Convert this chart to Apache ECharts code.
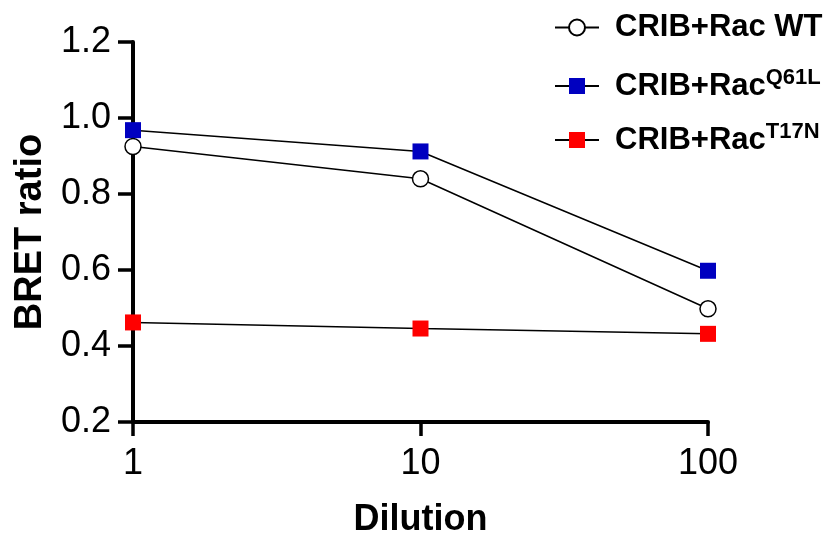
<!DOCTYPE html>
<html>
<head>
<meta charset="utf-8">
<script src="https://cdn.jsdelivr.net/npm/echarts@6/dist/echarts.min.js"></script>
<style>html,body{margin:0;padding:0;background:#fff}#c{width:838px;height:543px}</style>
</head>
<body>
<div id="c"></div>
<script>
const dilutions = [1, 10, 100];
const wtValues = [0.925, 0.84, 0.498];
const q61lValues = [0.968, 0.912, 0.598];
const t17nValues = [0.462, 0.446, 0.432];
const seriesNames = ['CRIB+Rac WT', 'CRIB+Rac Q61L', 'CRIB+Rac T17N'];
const legendLabels = ['CRIB+Rac WT', 'CRIB+Rac{s|Q61L}', 'CRIB+Rac{s|T17N}'];
const yTicks = [0.2, 0.4, 0.6, 0.8, 1.0, 1.2];

const FONT = '"Liberation Sans", Arial, sans-serif';
const pts = vals => dilutions.map((d, i) => [d, vals[i]]);

function mkLegend(idx, top) {
  return {
    data: [seriesNames[idx]],
    left: 549, top: top,
    itemWidth: 44, itemHeight: 20,
    formatter: () => legendLabels[idx],
    textStyle: {
      fontFamily: FONT, fontSize: 31, fontWeight: 'bold', color: '#000',
      padding: [0, 0, 0, 11],
      rich: {
        s: { fontFamily: FONT, fontSize: 22, fontWeight: 'bold', color: '#000', verticalAlign: 'top', padding: [0, 0, 16, 0] }
      }
    }
  };
}

const chart = echarts.init(document.getElementById('c'));
chart.setOption({
  animation: false,
  backgroundColor: '#fff',
  grid: { left: 133, right: 130, top: 42, bottom: 117 },
  legend: [mkLegend(0, 7), mkLegend(1, 62), mkLegend(2, 116)],
  xAxis: {
    type: 'log', logBase: 10, min: 1, max: 100,
    name: 'Dilution', nameLocation: 'middle', nameGap: 80,
    nameTextStyle: { fontFamily: FONT, fontSize: 36, fontWeight: 'bold', color: '#000' },
    axisLine: { lineStyle: { color: '#000', width: 4 } },
    axisTick: { length: 14, lineStyle: { color: '#000', width: 3.5 } },
    axisLabel: { fontFamily: FONT, fontSize: 36, color: '#000', margin: 24 },
    splitLine: { show: false }, minorTick: { show: false }
  },
  yAxis: {
    type: 'value', min: 0.2, max: 1.2, interval: 0.2,
    name: 'BRET ratio', nameLocation: 'middle', nameGap: 83, nameRotate: 90,
    nameTextStyle: { fontFamily: FONT, fontSize: 38, fontWeight: 'bold', color: '#000' },
    axisLine: { show: true, lineStyle: { color: '#000', width: 4 } },
    axisTick: { show: true, length: 15, lineStyle: { color: '#000', width: 3.5 } },
    axisLabel: { fontFamily: FONT, fontSize: 36, color: '#000', margin: 22, formatter: v => v.toFixed(1) },
    splitLine: { show: false }
  },
  series: [
    { name: seriesNames[2], type: 'line', data: pts(t17nValues), symbol: 'rect', symbolSize: 16,
      itemStyle: { color: '#ff0000' }, lineStyle: { color: '#000', width: 1.5 }, z: 2 },
    { name: seriesNames[1], type: 'line', data: pts(q61lValues), symbol: 'rect', symbolSize: 16,
      itemStyle: { color: '#0000c0' }, lineStyle: { color: '#000', width: 1.5 }, z: 3 },
    { name: seriesNames[0], type: 'line', data: pts(wtValues), symbol: 'circle', symbolSize: 16,
      itemStyle: { color: '#fff', borderColor: '#000', borderWidth: 1.5 }, lineStyle: { color: '#000', width: 1.5 }, z: 4 }
  ]
});
</script>
</body>
</html>
